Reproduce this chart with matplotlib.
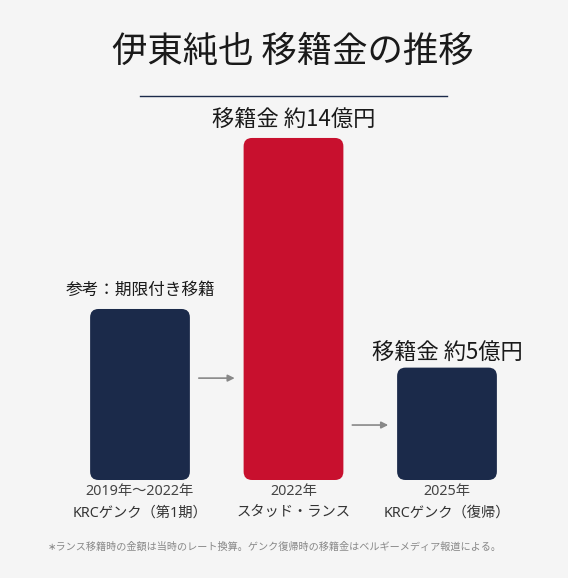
import matplotlib.pyplot as plt
from matplotlib.patches import FancyBboxPatch

plt.rcParams['font.family'] = ['Noto Sans CJK JP', 'DejaVu Sans']

# data
years = ["2019年〜2022年", "2022年", "2025年"]
clubs = ["KRCゲンク（第1期）", "スタッド・ランス", "KRCゲンク（復帰）"]
fees = [7.0, 14.0, 4.6]  # bar heights (億円 scale)
top_labels = ["参考：期限付き移籍", "移籍金 約14億円", "移籍金 約5億円"]
colors = ["#1b2a4a", "#c8102e", "#1b2a4a"]

bg = "#f5f5f5"
fig = plt.figure(figsize=(5.68, 5.78), dpi=100, facecolor=bg)
W, H = 568, 578
ax = fig.add_axes([63.25 / W, 98 / H, 460.5 / W, 390.9 / H])
ax.set_facecolor(bg)
ax.set_xlim(-0.5, 2.5)
ax.set_ylim(0, 16)
ax.axis("off")

# bars, then swap each for a rounded box of the same size
bw = 0.65
bars = ax.bar(range(len(fees)), fees, width=bw, color=colors)
for b in bars:
    x, y, w, h = b.get_x(), b.get_y(), b.get_width(), b.get_height()
    r = FancyBboxPatch((x, y), w, h, boxstyle="round,pad=0,rounding_size=0.055",
                       mutation_aspect=6.28, fc=b.get_facecolor(), ec="none")
    ax.add_patch(r)
    b.remove()

# labels above bars
sizes = [12, 16, 16]
offs = [7, 5, 3]
for i, (lab, v) in enumerate(zip(top_labels, fees)):
    ax.annotate(lab, (i, v), xytext=(0, offs[i]), textcoords="offset points",
                ha="center", va="bottom", fontsize=sizes[i], color="#1a1a1a")

# x labels
xfam = ['Noto Sans', 'Noto Sans CJK JP']
for i in range(len(fees)):
    ax.annotate(years[i], (i, 0), xytext=(0, -8), textcoords="offset points",
                ha="center", va="center", fontsize=10.3, color="#444444", family=xfam)
    ax.annotate(clubs[i], (i, 0), xytext=(0, -23.5), textcoords="offset points",
                ha="center", va="center", fontsize=10.3, color="#333333", family=xfam)

# arrows between bars
arrow_y = [4.17, 2.25]
for i, y in enumerate(arrow_y):
    ax.annotate("", xy=(i + 1 - bw / 2 - 0.04, y), xytext=(i + bw / 2 + 0.04, y),
                arrowprops=dict(arrowstyle="-|>,head_length=0.4,head_width=0.2",
                                color="#888888", lw=1.2))

# title and rule
fig.text(293 / W, 1 - 52 / H, "伊東純也 移籍金の推移", ha="center", va="center",
         fontsize=25.5, color="#1a1a1a")
fig.add_artist(plt.Line2D([140 / W, 447 / W], [1 - 96 / H, 1 - 96 / H],
                          color="#1b2a4a", lw=1))

fig.text(48 / W, 1 - 547 / H,
         "∗ランス移籍時の金額は当時のレート換算。ゲンク復帰時の移籍金はベルギーメディア報道による。",
         ha="left", va="center", fontsize=7.3, color="#888888",
         family=['Noto Sans CJK JP', 'DejaVu Sans'])

fig.savefig("out.png", dpi=100, facecolor=bg)
